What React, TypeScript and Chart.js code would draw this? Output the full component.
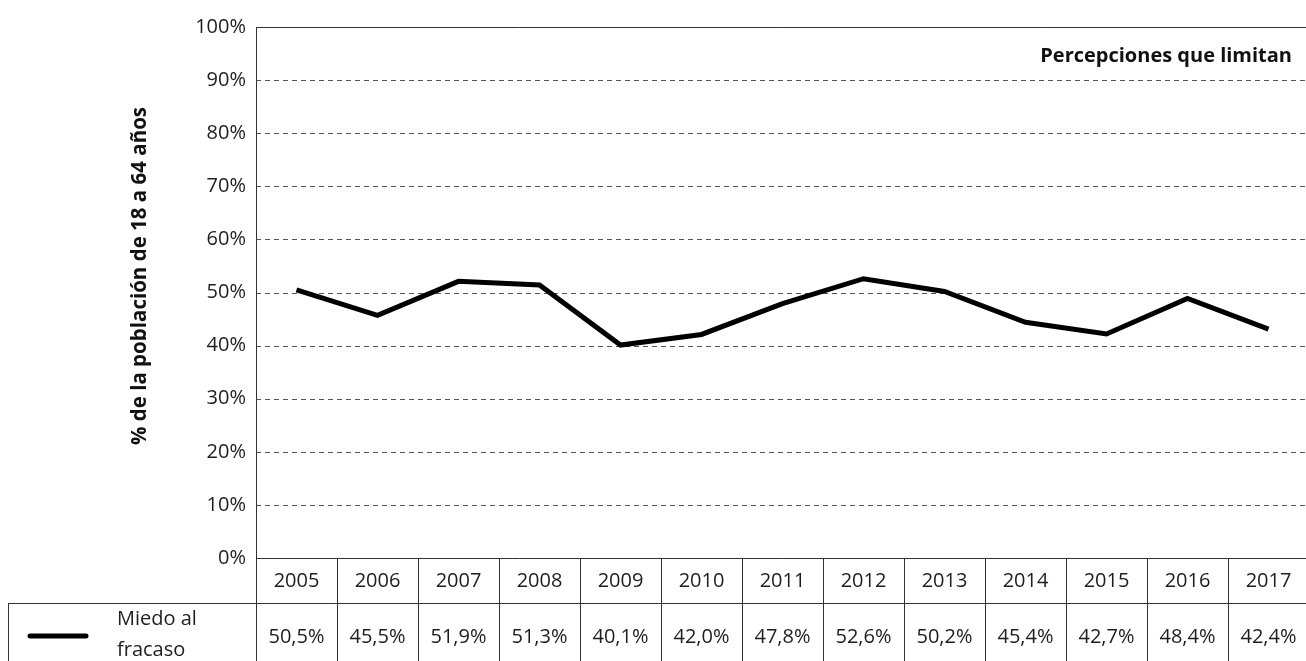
import React, { useEffect, useRef } from "react";
import { Chart, registerables } from "chart.js";

Chart.register(...registerables);

const years = ["2005", "2006", "2007", "2008", "2009", "2010", "2011", "2012", "2013", "2014", "2015", "2016", "2017"];
const lineValues = [50.5, 45.7, 52.1, 51.4, 40.1, 42.1, 47.9, 52.6, 50.2, 44.4, 42.2, 48.9, 43.1];
const tableLabels = ["50,5%", "45,5%", "51,9%", "51,3%", "40,1%", "42,0%", "47,8%", "52,6%", "50,2%", "45,4%", "42,7%", "48,4%", "42,4%"];
const seriesNameLines = ["Miedo al", "fracaso"];
const chartTitle = "Percepciones que limitan";
const yAxisTitle = "% de la población de 18 a 64 años";
const yTicks = [0, 10, 20, 30, 40, 50, 60, 70, 80, 90, 100];

const FONT = "'Open Sans', 'Noto Sans', sans-serif";
const TEXT = "#1e1e1e";
const RULE = "#333";

const decorPlugin = {
  id: "decor",
  beforeDatasetsDraw(chart: any) {
    const { ctx, chartArea: ca, scales } = chart;
    const y = scales.y;
    ctx.save();
    ctx.strokeStyle = "#555";
    ctx.lineWidth = 1;
    ctx.setLineDash([5, 4]);
    for (const t of yTicks) {
      if (t === 0 || t === 100) continue;
      const py = Math.round(y.getPixelForValue(t)) + 0.5;
      ctx.beginPath();
      ctx.moveTo(ca.left, py);
      ctx.lineTo(ca.right, py);
      ctx.stroke();
    }
    ctx.restore();
  },
  afterDraw(chart: any) {
    const { ctx, chartArea: ca, scales, height } = chart;
    const x = scales.x;
    const n = years.length;
    const colW = (ca.right - ca.left) / n;
    const headerBottom = 603;
    const legendLeft = 8;
    ctx.save();
    ctx.setLineDash([]);
    ctx.strokeStyle = RULE;
    ctx.lineWidth = 1;
    const L = Math.round(ca.left) + 0.5;
    ctx.beginPath();
    ctx.moveTo(L, ca.top);
    ctx.lineTo(L, height);
    ctx.moveTo(ca.left, Math.round(ca.top) + 0.5);
    ctx.lineTo(ca.right, Math.round(ca.top) + 0.5);
    ctx.moveTo(ca.left, Math.round(ca.bottom) + 0.5);
    ctx.lineTo(ca.right, Math.round(ca.bottom) + 0.5);
    ctx.moveTo(legendLeft, headerBottom + 0.5);
    ctx.lineTo(ca.right, headerBottom + 0.5);
    ctx.moveTo(legendLeft + 0.5, headerBottom);
    ctx.lineTo(legendLeft + 0.5, height);
    for (let i = 1; i <= n; i++) {
      const bx = Math.round(ca.left + i * colW) + 0.5;
      ctx.moveTo(bx, ca.bottom);
      ctx.lineTo(bx, height);
    }
    ctx.stroke();

    ctx.fillStyle = TEXT;
    ctx.font = `20px ${FONT}`;
    ctx.textAlign = "center";
    ctx.textBaseline = "middle";
    const headerMid = (ca.bottom + headerBottom) / 2 + 1;
    const valueMid = 637;
    for (let i = 0; i < n; i++) {
      const cx = x.getPixelForValue(i);
      ctx.fillText(years[i], cx, headerMid);
      ctx.fillText(tableLabels[i], cx, valueMid);
    }

    ctx.strokeStyle = "#000";
    ctx.lineWidth = 5;
    ctx.lineCap = "round";
    ctx.beginPath();
    ctx.moveTo(30, 636);
    ctx.lineTo(86, 636);
    ctx.stroke();
    ctx.textAlign = "left";
    ctx.fillText(seriesNameLines[0], 117, 619);
    ctx.fillText(seriesNameLines[1], 117, 650);

    ctx.font = `bold 20px ${FONT}`;
    ctx.textAlign = "right";
    ctx.fillStyle = "#111";
    ctx.fillText(chartTitle, 1292, 56);

    ctx.font = `bold 20.5px ${FONT}`;
    ctx.translate(140, 276);
    ctx.rotate(-Math.PI / 2);
    ctx.textAlign = "center";
    ctx.fillText(yAxisTitle, 0, 0);
    ctx.restore();
  },
};

export default function App() {
  const ref = useRef<HTMLCanvasElement | null>(null);
  useEffect(() => {
    if (!ref.current) return;
    const chart = new Chart(ref.current, {
      type: "line",
      data: {
        labels: years,
        datasets: [
          {
            label: seriesNameLines.join(" "),
            data: lineValues,
            borderColor: "#000",
            borderWidth: 5,
            pointRadius: 0,
            pointHoverRadius: 0,
            tension: 0,
            fill: false,
          },
        ],
      },
      options: {
        animation: false,
        responsive: false,
        maintainAspectRatio: false,
        layout: { padding: { top: 27, right: 1, bottom: 103, left: 0 } },
        plugins: {
          legend: { display: false },
          tooltip: { enabled: false },
          title: { display: false },
        },
        scales: {
          x: {
            type: "category",
            display: false,
            offset: true,
            grid: { display: false },
          },
          y: {
            min: 0,
            max: 100,
            afterFit: (s: any) => {
              s.width = 256;
            },
            ticks: {
              stepSize: 10,
              callback: (v: any) => `${v}%`,
              font: { family: FONT, size: 20 },
              color: TEXT,
              padding: 10,
            },
            grid: { display: false, drawTicks: false },
            border: { display: false },
          },
        },
      },
      plugins: [decorPlugin],
    });
    return () => chart.destroy();
  }, []);
  return (
    <div style={{ position: "fixed", left: 0, top: 0, width: 1306, height: 661, overflow: "hidden", background: "#fff" }}>
      <canvas ref={ref} width={1310} height={661} style={{ width: 1310, height: 661, display: "block" }} />
    </div>
  );
}
